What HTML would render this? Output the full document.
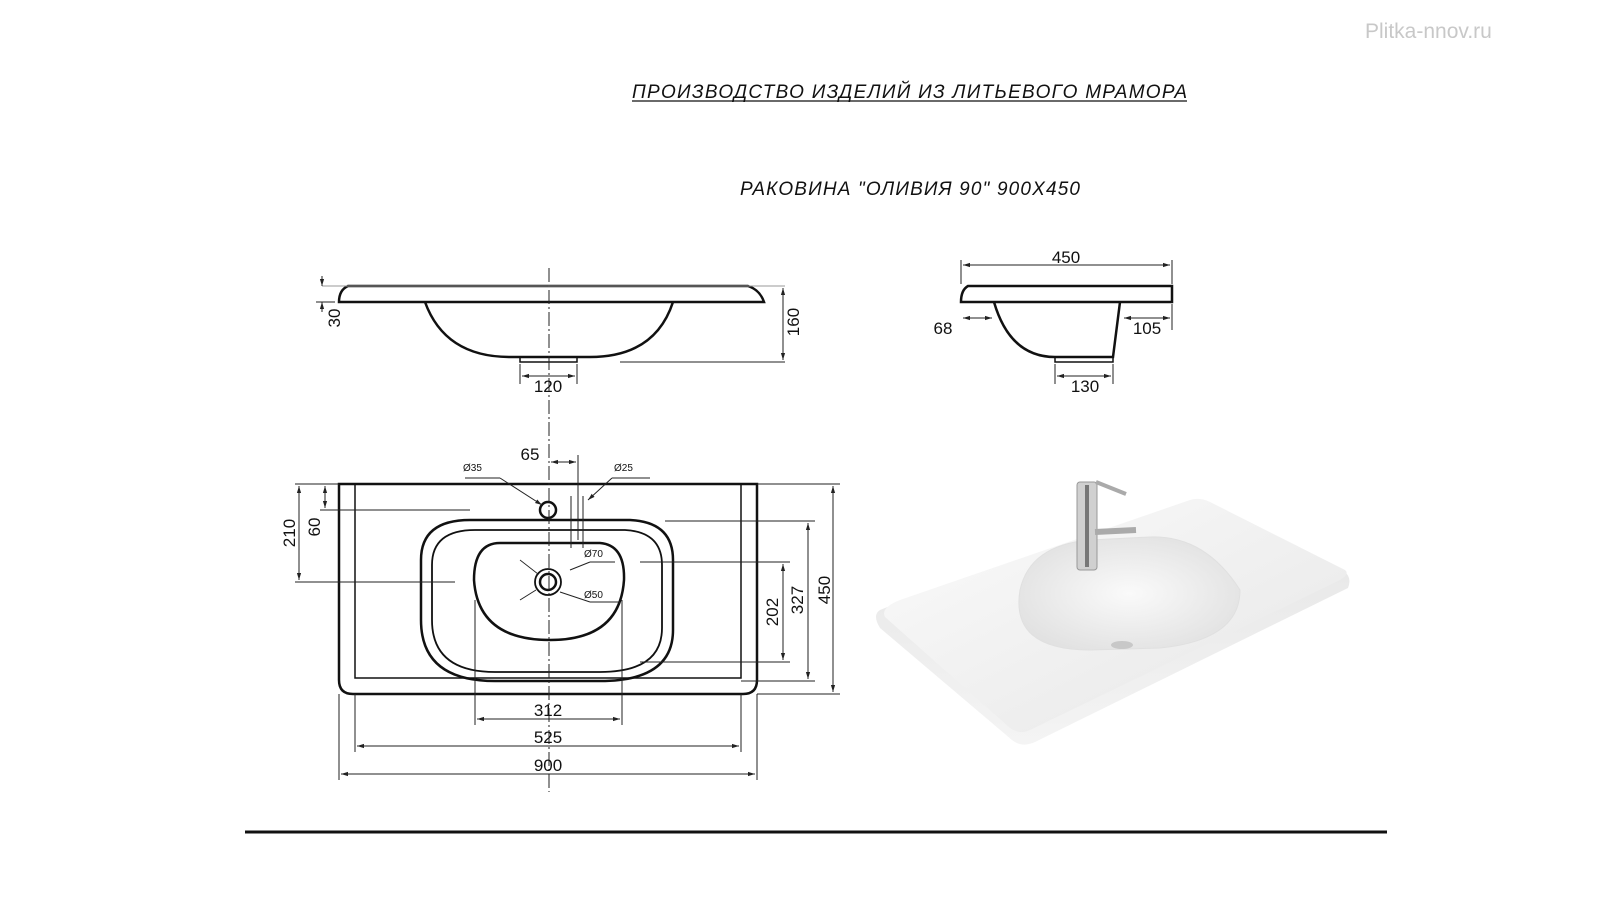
<!DOCTYPE html>
<html><head><meta charset="utf-8"><style>
body{margin:0;background:#fff;}
svg{display:block;font-family:"Liberation Sans",Arial,sans-serif;}
</style></head><body>
<svg width="1600" height="900" viewBox="0 0 1600 900" xmlns="http://www.w3.org/2000/svg">
<defs>
<marker id="a" viewBox="0 0 10 10" refX="10" refY="5" markerWidth="7" markerHeight="7" orient="auto-start-reverse"><path d="M0,2 L10,5 L0,8z" fill="#222"/></marker>
<linearGradient id="g1" x1="0" y1="0" x2="1" y2="1"><stop offset="0" stop-color="#fbfbfb"/><stop offset="1" stop-color="#e6e6e6"/></linearGradient>
<linearGradient id="g3" x1="0" y1="0" x2="0" y2="1"><stop offset="0" stop-color="#e4e4e4"/><stop offset="1" stop-color="#f4f4f4"/></linearGradient>
<radialGradient id="g2" cx="0.5" cy="0.5" r="0.6"><stop offset="0" stop-color="#fafafa"/><stop offset="1" stop-color="#e0e0e0"/></radialGradient>
</defs>
<text x="1365" y="38" font-size="21" fill="#c8c8c8">Plitka-nnov.ru</text>
<text x="632" y="98" font-size="19" font-style="italic" fill="#111" textLength="555">ПРОИЗВОДСТВО ИЗДЕЛИЙ ИЗ ЛИТЬЕВОГО МРАМОРА</text>
<line x1="632" y1="101" x2="1187" y2="101" stroke="#111" stroke-width="1.3"/>
<text x="740" y="195" font-size="19" font-style="italic" fill="#111" textLength="340">РАКОВИНА "ОЛИВИЯ 90" 900X450</text>

<g fill="none" stroke="#111" stroke-width="2.5">
<path d="M348,286 L748,286 Q760,290 764,302 L339,302 Q339,290 348,286Z"/>
<path d="M425,302 Q445,357 510,357 L590,357 Q655,357 673,302"/>
<rect x="520" y="357" width="57" height="5" stroke-width="1.5"/>
<path d="M968,286 L1172,286 L1172,302 L961,302 Q961,290 968,286Z"/>
<path d="M994,302 Q1010,357 1055,357 L1113,357 L1120,302"/>
<rect x="1055" y="357" width="58" height="5" stroke-width="1.5"/>
<path d="M339,484 L757,484 L757,680 Q757,694 743,694 L353,694 Q339,694 339,680Z"/>
<path d="M355,484 L355,678 L741,678 L741,484" stroke-width="1.5"/>
<path d="M470,520 L630,520 Q673,522 673,560 L673,630 Q673,681 600,681 L495,681 Q421,681 421,620 L421,560 Q421,520 470,520Z"/>
<path d="M475,530 L625,530 Q662,532 662,565 L662,628 Q662,672 600,672 L495,672 Q432,672 432,620 L432,565 Q432,530 475,530Z" stroke-width="1.8"/>
<path d="M500,543 L600,543 Q625,545 624,580 Q620,640 550,640 Q478,640 474,580 Q474,543 500,543Z"/>
<circle cx="548" cy="510" r="8"/>
<circle cx="548" cy="582" r="13" stroke-width="1.8"/>
<circle cx="548" cy="582" r="8"/>
</g>
<g stroke="#222" stroke-width="1" fill="none">
<line x1="549" y1="268" x2="549" y2="792" stroke-dasharray="14,3,2,3"/>
<line x1="322" y1="286" x2="785" y2="286" stroke="#999"/>
<line x1="316" y1="302" x2="335" y2="302"/>
<line x1="322" y1="276" x2="322" y2="286" marker-end="url(#a)"/>
<line x1="322" y1="312" x2="322" y2="302" marker-end="url(#a)"/>
<line x1="620" y1="362" x2="785" y2="362"/>
<line x1="783" y1="288" x2="783" y2="360" marker-start="url(#a)" marker-end="url(#a)"/>
<line x1="520" y1="364" x2="520" y2="384"/><line x1="577" y1="364" x2="577" y2="384"/>
<line x1="522" y1="376" x2="575" y2="376" marker-start="url(#a)" marker-end="url(#a)"/>
<line x1="961" y1="260" x2="961" y2="284"/><line x1="1172" y1="260" x2="1172" y2="284"/>
<line x1="963" y1="265" x2="1170" y2="265" marker-start="url(#a)" marker-end="url(#a)"/>
<line x1="963" y1="318" x2="992" y2="318" marker-start="url(#a)" marker-end="url(#a)"/>
<line x1="1124" y1="318" x2="1170" y2="318" marker-start="url(#a)" marker-end="url(#a)"/>
<line x1="1172" y1="304" x2="1172" y2="330"/>
<line x1="1055" y1="364" x2="1055" y2="384"/><line x1="1113" y1="364" x2="1113" y2="384"/>
<line x1="1057" y1="376" x2="1111" y2="376" marker-start="url(#a)" marker-end="url(#a)"/>
<line x1="578" y1="455" x2="578" y2="540"/>
<line x1="551" y1="462" x2="576" y2="462" marker-start="url(#a)" marker-end="url(#a)"/>
<line x1="571" y1="496" x2="571" y2="548"/><line x1="583" y1="496" x2="583" y2="548"/>
<line x1="465" y1="478" x2="500" y2="478"/><line x1="500" y1="478" x2="542" y2="505" marker-end="url(#a)"/>
<line x1="612" y1="478" x2="650" y2="478"/><line x1="612" y1="478" x2="588" y2="500" marker-end="url(#a)"/>
<line x1="520" y1="560" x2="538" y2="574" stroke-width="0.8"/><line x1="560" y1="592" x2="590" y2="602"/>
<line x1="590" y1="602" x2="620" y2="602"/><line x1="570" y1="570" x2="590" y2="562"/><line x1="590" y1="562" x2="615" y2="562"/>
<line x1="520" y1="600" x2="536" y2="590"/>
<line x1="295" y1="484" x2="339" y2="484"/>
<line x1="295" y1="582" x2="455" y2="582"/>
<line x1="320" y1="510" x2="470" y2="510"/>
<line x1="299" y1="486" x2="299" y2="580" marker-start="url(#a)" marker-end="url(#a)"/>
<line x1="325" y1="486" x2="325" y2="508" marker-start="url(#a)" marker-end="url(#a)"/>
<line x1="757" y1="484" x2="840" y2="484"/>
<line x1="757" y1="694" x2="840" y2="694"/>
<line x1="833" y1="486" x2="833" y2="692" marker-start="url(#a)" marker-end="url(#a)"/>
<line x1="665" y1="521" x2="815" y2="521"/>
<line x1="741" y1="681" x2="815" y2="681"/>
<line x1="808" y1="523" x2="808" y2="679" marker-start="url(#a)" marker-end="url(#a)"/>
<line x1="640" y1="562" x2="790" y2="562"/>
<line x1="640" y1="662" x2="790" y2="662"/>
<line x1="783" y1="564" x2="783" y2="660" marker-start="url(#a)" marker-end="url(#a)"/>
<line x1="475" y1="600" x2="475" y2="725"/><line x1="622" y1="600" x2="622" y2="725"/>
<line x1="477" y1="719" x2="620" y2="719" marker-start="url(#a)" marker-end="url(#a)"/>
<line x1="355" y1="694" x2="355" y2="752"/><line x1="741" y1="694" x2="741" y2="752"/>
<line x1="357" y1="746" x2="739" y2="746" marker-start="url(#a)" marker-end="url(#a)"/>
<line x1="339" y1="694" x2="339" y2="780"/><line x1="757" y1="694" x2="757" y2="780"/>
<line x1="341" y1="774" x2="755" y2="774" marker-start="url(#a)" marker-end="url(#a)"/>
</g>
<g font-size="17" fill="#111" text-anchor="middle">
<text x="548" y="392">120</text>
<text x="1066" y="263">450</text>
<text x="943" y="334">68</text>
<text x="1147" y="334">105</text>
<text x="1085" y="392">130</text>
<text transform="translate(340,318) rotate(-90)">30</text>
<text transform="translate(799,322) rotate(-90)">160</text>
<text x="530" y="460">65</text>
<text x="548" y="716">312</text>
<text x="548" y="743">525</text>
<text x="548" y="771">900</text>
<text transform="translate(295,533) rotate(-90)">210</text>
<text transform="translate(320,527) rotate(-90)">60</text>
<text transform="translate(830,590) rotate(-90)">450</text>
<text transform="translate(803,600) rotate(-90)">327</text>
<text transform="translate(778,612) rotate(-90)">202</text>
</g>
<g font-size="10" fill="#111">
<text x="463" y="471">Ø35</text><text x="614" y="471">Ø25</text>
<text x="584" y="557">Ø70</text><text x="584" y="598">Ø50</text>
</g>
<!-- photo -->
<g>
<path d="M900,602 L1190,502 Q1200,499 1210,504 L1345,572 Q1352,578 1348,588 L1035,742 Q1022,748 1012,740 L880,628 Q872,615 880,610Z" fill="url(#g3)"/>
<path d="M900,600 L1190,500 Q1200,497 1210,502 L1345,570 Q1350,574 1340,580 L1030,730 Q1020,735 1010,728 L885,617 Q880,608 900,600Z" fill="url(#g1)"/>
<path d="M1020,590 Q1030,545 1090,540 L1150,537 Q1205,535 1240,590 Q1240,640 1160,648 L1090,650 Q1010,650 1020,590Z" fill="url(#g2)" stroke="#e0e0e0"/>
<ellipse cx="1122" cy="645" rx="11" ry="4" fill="#c8c8c8"/>
<rect x="1077" y="482" width="20" height="88" rx="3" fill="#d0d0d0" stroke="#999"/>
<rect x="1085" y="485" width="4" height="82" fill="#777"/>
<path d="M1096,482 L1126,494" stroke="#aaa" stroke-width="4"/>
<path d="M1095,532 L1136,530" stroke="#aaa" stroke-width="6"/>
</g>
<line x1="245" y1="832" x2="1387" y2="832" stroke="#111" stroke-width="3"/>
</svg>
</body></html>
